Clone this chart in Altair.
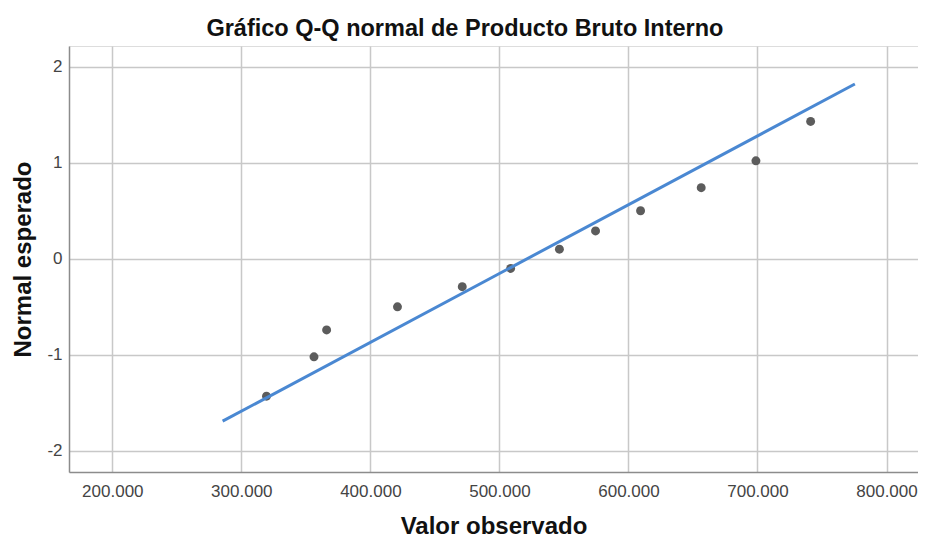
import altair as alt
import pandas as pd

observed = [319500, 356300, 366100, 421000, 471200, 508700,
            546500, 574500, 609400, 656400, 698800, 741200]
expected = [-1.43, -1.02, -0.74, -0.50, -0.29, -0.10,
            0.10, 0.29, 0.50, 0.74, 1.02, 1.43]

# Reference line endpoints
line_x = [285500, 775500]
line_y = [-1.69, 1.82]

x_ticks = [200000, 300000, 400000, 500000, 600000, 700000, 800000]
y_ticks = [-2, -1, 0, 1, 2]

pts = pd.DataFrame({"obs": observed, "exp": expected})
ln = pd.DataFrame({"obs": line_x, "exp": line_y})

FONT = "Liberation Sans"

x_scale = alt.Scale(domain=[166440, 824410], nice=False, zero=False)
y_scale = alt.Scale(domain=[-2.219, 2.215], nice=False, zero=False)

x_enc = alt.X(
    "obs:Q",
    scale=x_scale,
    axis=alt.Axis(
        title="Valor observado",
        values=x_ticks,
        labelExpr="replace(format(datum.value, ','), ',', '.')",
        ticks=False,
        labelPadding=11,
        labelFontSize=17,
        labelColor="#444444",
        labelFont=FONT,
        titleFont=FONT,
        titleFontSize=24,
        titleFontWeight="bold",
        titleColor="#111111",
        titlePadding=15,
        domainColor="#8c8c8c",
        domainWidth=1.5,
        gridColor="#c8c8c8",
        gridWidth=1.5,
    ),
)
y_enc = alt.Y(
    "exp:Q",
    scale=y_scale,
    axis=alt.Axis(
        title="Normal esperado",
        values=y_ticks,
        labelExpr="datum.value < 0 ? '-' + abs(datum.value) : '' + datum.value",
        ticks=False,
        labelPadding=7,
        labelFontSize=17,
        labelColor="#444444",
        labelFont=FONT,
        titleFont=FONT,
        titleFontSize=24,
        titleFontWeight="bold",
        titleColor="#111111",
        titlePadding=11,
        domainColor="#8c8c8c",
        domainWidth=1.5,
        gridColor="#c8c8c8",
        gridWidth=1.5,
    ),
)

points = alt.Chart(pts).mark_circle(size=80, color="#5c5c5c", opacity=1).encode(
    x=x_enc, y=y_enc
)
line = alt.Chart(ln).mark_line(color="#4a88d2", strokeWidth=3).encode(
    x=alt.X("obs:Q", scale=x_scale), y=alt.Y("exp:Q", scale=y_scale)
)

chart = (
    alt.layer(points, line)
    .properties(
        width=849,
        height=426,
        autosize=alt.AutoSizeParams(type="none"),
        padding={"left": 61, "top": 38, "right": 0, "bottom": 66},
        title=alt.TitleParams(
            "Gráfico Q-Q normal de Producto Bruto Interno",
            font=FONT,
            fontSize=23.5,
            fontWeight="bold",
            color="#111111",
            anchor="middle",
            frame="bounds",
            offset=6,
        ),
    )
    .configure_view(stroke=None)
    .configure(background="white")
)

chart.save("out.html", embed_options={"renderer": "svg", "actions": False})
